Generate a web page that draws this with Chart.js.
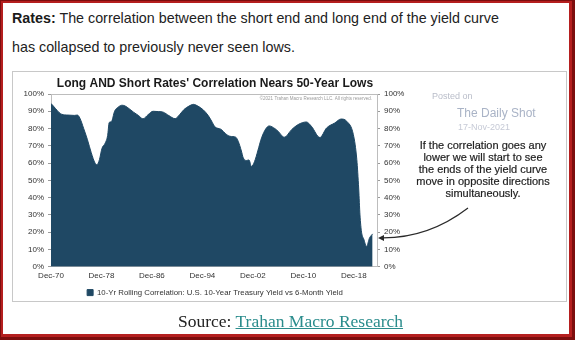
<!DOCTYPE html>
<html>
<head>
<meta charset="utf-8">
<script src="https://cdn.jsdelivr.net/npm/chart.js@4.4.1/dist/chart.umd.min.js"></script>
<style>
  body { margin: 0; width: 575px; height: 340px; overflow: hidden; background: #fff;
         font-family: "Liberation Sans", Arial, sans-serif; }
  .abs { position: absolute; }
  #frame { left: 0; top: 0; width: 575px; height: 340px; background: #7d0e0e; }
  #rim { left: 1px; top: 1px; width: 571px; height: 336px; background: #b51f1f; }
  #page { left: 3px; top: 3px; width: 566px; height: 331px; background: #fff; }
  .lead { left: 12px; font-size: 14.3px; line-height: 16px; color: #222; white-space: nowrap; }
  .lead b { color: #1a1a1a; }
  #box { left: 12px; top: 71px; width: 553px; height: 229px; border: 1px solid #c8c8c8; }
  #box canvas { position: absolute; left: 0; top: 0; }
  .stamp { white-space: nowrap; }
  #note { left: 403px; top: 139px; width: 160px; text-align: center; font-size: 11px;
          line-height: 12px; color: #1e1e1e; white-space: nowrap; -webkit-text-stroke: 0.2px #1e1e1e; }
  #source { left: 178px; top: 310px; font-family: "Liberation Serif", "Times New Roman", serif;
            font-size: 17.5px; line-height: 22px; color: #222; white-space: nowrap; }
  #source a { color: #2a8c8c; text-decoration: underline; }
</style>
</head>
<body>
<div id="frame" class="abs"></div>
<div id="rim" class="abs"></div>
<div id="page" class="abs"></div>

<div class="abs lead" style="top:10px"><b>Rates:</b> The correlation between the short end and long end of the yield curve</div>
<div class="abs lead" style="top:39px">has collapsed to previously never seen lows.</div>

<div id="box" class="abs"><canvas id="corr" width="553" height="240"></canvas></div>

<div class="abs stamp" style="left:432px;top:91px;font-size:9px;color:#b9bdc9">Posted on</div>
<div class="abs stamp" style="left:457px;top:106px;font-size:12px;color:#a9b3c6">The Daily Shot</div>
<div class="abs stamp" style="left:458px;top:122px;font-size:9px;color:#c6cad6">17-Nov-2021</div>
<div id="note" class="abs">If the correlation goes any<br>lower we will start to see<br>the ends of the yield curve<br>move in opposite directions<br>simultaneously.</div>

<div id="source" class="abs">Source: <a>Trahan Macro Research</a></div>

<script>
// 10-year rolling correlation, decimal year -> percent
const years = [
  1970.92, 1971.3, 1971.9, 1972.6, 1973.6, 1974.6, 1975.1, 1975.5, 1976.1, 1976.7,
  1977.3, 1977.9, 1978.2, 1978.6, 1979.0, 1979.5, 1979.9, 1980.15, 1980.5, 1981.0,
  1981.6, 1982.2, 1982.7, 1983.3, 1984.0, 1984.8, 1985.5, 1986.3, 1987.1, 1988.0,
  1988.7, 1989.6, 1990.6, 1991.3, 1992.0, 1992.8, 1993.5, 1994.2, 1995.0, 1995.85,
  1996.5, 1996.9, 1997.9, 1998.6, 1999.3, 2000.2, 2000.6, 2001.1, 2001.4, 2001.9,
  2002.3, 2002.7, 2003.2, 2003.7, 2004.3, 2005.0, 2005.5, 2006.4, 2006.9, 2007.9,
  2009.1, 2010.1, 2011.4, 2012.2, 2013.55, 2014.6, 2015.9, 2016.9, 2017.8, 2018.85,
  2019.4, 2019.7, 2019.9, 2020.15, 2020.5, 2020.95, 2021.4, 2021.9
];
const correlation = [
  94.5, 93, 90.5, 88.3, 87.8, 87.6, 87.8, 86, 80, 73.5,
  66, 60, 59, 62, 68.5, 71.5, 76, 83.5, 84, 90,
  92.5, 93.5, 93, 91.5, 89.5, 87.5, 85.6, 88, 90, 89.8,
  89.5, 87.5, 85.7, 88, 91, 93, 94, 93, 91, 87.5,
  83.5, 81, 79.5, 77, 75.5, 75, 72.6, 67, 63, 61.5,
  61.8, 58, 61, 67, 74.6, 80, 81.5, 80, 78.5, 75,
  79.5, 82.3, 83.8, 81.3, 74.8, 80.3, 83.2, 85.5, 84.2, 76.5,
  62, 45, 30, 20, 16, 11.7, 16.5, 19
];
const tickYears = [1970.92, 1978.92, 1986.92, 1994.92, 2002.92, 2010.92, 2018.92];
const tickLabels = ['Dec-70', 'Dec-78', 'Dec-86', 'Dec-94', 'Dec-02', 'Dec-10', 'Dec-18'];

const FONT = '"Liberation Sans", Arial, sans-serif';
const NAVY = '#1f4864';

// top frame line, copyright line, arrow to the latest reading
const extras = {
  id: 'extras',
  afterDatasetsDraw(chart) {
    const { ctx, chartArea: a, scales } = chart;
    ctx.save();
    ctx.strokeStyle = '#bdbdbd';
    ctx.lineWidth = 1;
    ctx.beginPath();
    ctx.moveTo(a.left, a.top + 0.5);
    ctx.lineTo(a.right, a.top + 0.5);
    ctx.stroke();

    ctx.font = '4.5px ' + FONT;
    ctx.fillStyle = '#9a9a9a';
    ctx.textAlign = 'right';
    ctx.textBaseline = 'middle';
    ctx.fillText('\u00a92021 Trahan Macro Research LLC. All rights reserved.', a.right - 5, a.top + 5);

    const last = correlation[correlation.length - 1];
    const hx = a.right + 1;
    const hy = scales.y.getPixelForValue(last) + 4;
    ctx.strokeStyle = '#2a2a2a';
    ctx.fillStyle = '#2a2a2a';
    ctx.lineWidth = 1.2;
    ctx.beginPath();
    ctx.moveTo(a.right + 91, a.top + 114);
    ctx.quadraticCurveTo(a.right + 52, hy, hx + 5, hy);
    ctx.stroke();
    ctx.beginPath();
    ctx.moveTo(hx, hy);
    ctx.lineTo(hx + 6, hy - 3);
    ctx.lineTo(hx + 6, hy + 3);
    ctx.closePath();
    ctx.fill();
    ctx.restore();
  }
};

const pctAxis = (position, width) => ({
  position: position,
  min: 0,
  max: 100,
  ticks: { stepSize: 10, callback: v => v + '%', font: { size: 8, family: FONT }, color: '#333', padding: 4 },
  grid: { drawOnChartArea: false, tickLength: 3, color: '#9a9a9a' },
  border: { color: '#bdbdbd' },
  afterFit: s => { s.width = width; }
});

new Chart(document.getElementById('corr'), {
  type: 'line',
  data: {
    datasets: [{
      label: '10-Yr Rolling Correlation: U.S. 10-Year Treasury Yield vs 6-Month Yield',
      data: years.map((yr, i) => ({ x: yr, y: correlation[i] })),
      borderColor: NAVY,
      backgroundColor: NAVY,
      borderWidth: 1,
      pointRadius: 0,
      fill: 'origin',
      cubicInterpolationMode: 'monotone'
    }]
  },
  options: {
    responsive: false,
    animation: false,
    layout: { padding: { left: 0, right: 149, top: 0, bottom: 5.5 } },
    plugins: {
      title: {
        display: true,
        text: "Long AND Short Rates' Correlation Nears 50-Year Lows",
        font: { size: 12, weight: 'bold', family: FONT },
        color: '#1a1a1a',
        padding: { top: 4, bottom: 3.6 }
      },
      legend: {
        position: 'bottom',
        labels: { boxWidth: 6, boxHeight: 6, font: { size: 7.8, family: FONT }, color: '#333', padding: 1.5 }
      },
      tooltip: { enabled: false }
    },
    scales: {
      x: {
        type: 'linear',
        min: years[0],
        max: 2022.6,
        afterBuildTicks: axis => { axis.ticks = tickYears.map(v => ({ value: v })); },
        ticks: {
          callback: (v, i) => tickLabels[i],
          autoSkip: false,
          maxRotation: 0,
          font: { size: 8, family: FONT },
          color: '#333',
          padding: 4.5
        },
        grid: { display: false, drawTicks: false },
        border: { color: '#bdbdbd' },
        afterFit: s => { s.height = 20.5; }
      },
      y: pctAxis('left', 38),
      y2: pctAxis('right', 40)
    }
  },
  plugins: [extras]
});
</script>
</body>
</html>
